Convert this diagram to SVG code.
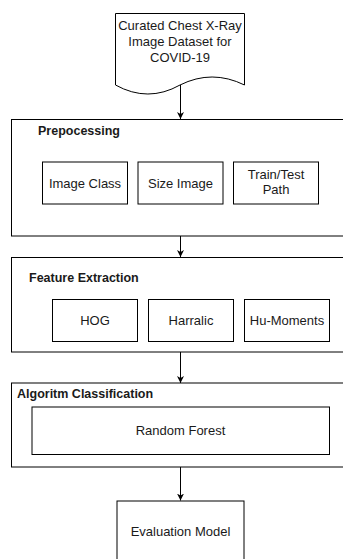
<svg xmlns="http://www.w3.org/2000/svg" width="343" height="559" viewBox="0 0 343 559">
  <style>
    .box { fill: #fff; stroke: #000; stroke-width: 1; }
    .lbl { font-family: "Liberation Sans", Arial, sans-serif; font-size: 13px; fill: #1a1a1a; text-anchor: middle; }
    .ttl { font-family: "Liberation Sans", Arial, sans-serif; font-size: 12.5px; font-weight: bold; fill: #1a1a1a; }
    .edge { stroke: #000; stroke-width: 1; fill: none; }
  </style>
  <defs>
    <marker id="arrow" viewBox="0 0 10 10" refX="10" refY="5" markerWidth="7" markerHeight="8" markerUnits="userSpaceOnUse" orient="auto">
      <path d="M0,0 L10,5 L0,10 L3,5 Z" fill="#000"/>
    </marker>
  </defs>
  <rect width="343" height="559" fill="#fff"/>

  <!-- connectors -->
  <g id="connectors">
    <line class="edge" x1="180.5" y1="85" x2="180.5" y2="119" marker-end="url(#arrow)"/>
    <line class="edge" x1="180.5" y1="236" x2="180.5" y2="257" marker-end="url(#arrow)"/>
    <line class="edge" x1="180.5" y1="352" x2="180.5" y2="383" marker-end="url(#arrow)"/>
    <line class="edge" x1="180.5" y1="467" x2="180.5" y2="500.5" marker-end="url(#arrow)"/>
  </g>

  <!-- dataset document -->
  <g id="dataset">
    <path class="box" d="M115.5,13.5 H244.5 V85 Q212,69 180,85 Q148,103 115.5,85 Z"/>
    <text class="lbl" x="180" y="30">Curated Chest X-Ray</text>
    <text class="lbl" x="180" y="45.5">Image Dataset for</text>
    <text class="lbl" x="180" y="61.5">COVID-19</text>
  </g>

  <!-- preprocessing stage -->
  <g id="preprocessing">
    <rect class="box" x="11.5" y="119.5" width="340" height="116.5"/>
    <text class="ttl" x="38" y="135">Prepocessing</text>
    <g id="image-class">
      <rect class="box" x="42.5" y="162" width="85" height="42"/>
      <text class="lbl" x="85" y="187.5">Image Class</text>
    </g>
    <g id="size-image">
      <rect class="box" x="138" y="162" width="85" height="42"/>
      <text class="lbl" x="180.5" y="187.5">Size Image</text>
    </g>
    <g id="train-test-path">
      <rect class="box" x="233.5" y="162" width="85" height="42"/>
      <text class="lbl" x="276" y="178.5">Train/Test</text>
      <text class="lbl" x="276" y="193.5">Path</text>
    </g>
  </g>

  <!-- feature extraction stage -->
  <g id="feature-extraction">
    <rect class="box" x="11.5" y="257.5" width="340" height="94.5"/>
    <text class="ttl" x="29" y="282">Feature Extraction</text>
    <g id="hog">
      <rect class="box" x="52.5" y="299.5" width="85" height="42"/>
      <text class="lbl" x="95" y="325">HOG</text>
    </g>
    <g id="harralic">
      <rect class="box" x="148.5" y="299.5" width="85" height="42"/>
      <text class="lbl" x="191" y="325">Harralic</text>
    </g>
    <g id="hu-moments">
      <rect class="box" x="244.5" y="299.5" width="85" height="42"/>
      <text class="lbl" x="287" y="325">Hu-Moments</text>
    </g>
  </g>

  <!-- classification stage -->
  <g id="classification">
    <rect class="box" x="11.5" y="383" width="340" height="84"/>
    <text class="ttl" x="17" y="397.5">Algoritm Classification</text>
    <g id="random-forest">
      <rect class="box" x="32" y="407" width="297.5" height="47.5"/>
      <text class="lbl" x="180.5" y="435">Random Forest</text>
    </g>
  </g>

  <!-- evaluation -->
  <g id="evaluation">
    <rect class="box" x="117" y="501" width="127" height="70"/>
    <text class="lbl" x="180.5" y="535.5">Evaluation Model</text>
  </g>
</svg>
